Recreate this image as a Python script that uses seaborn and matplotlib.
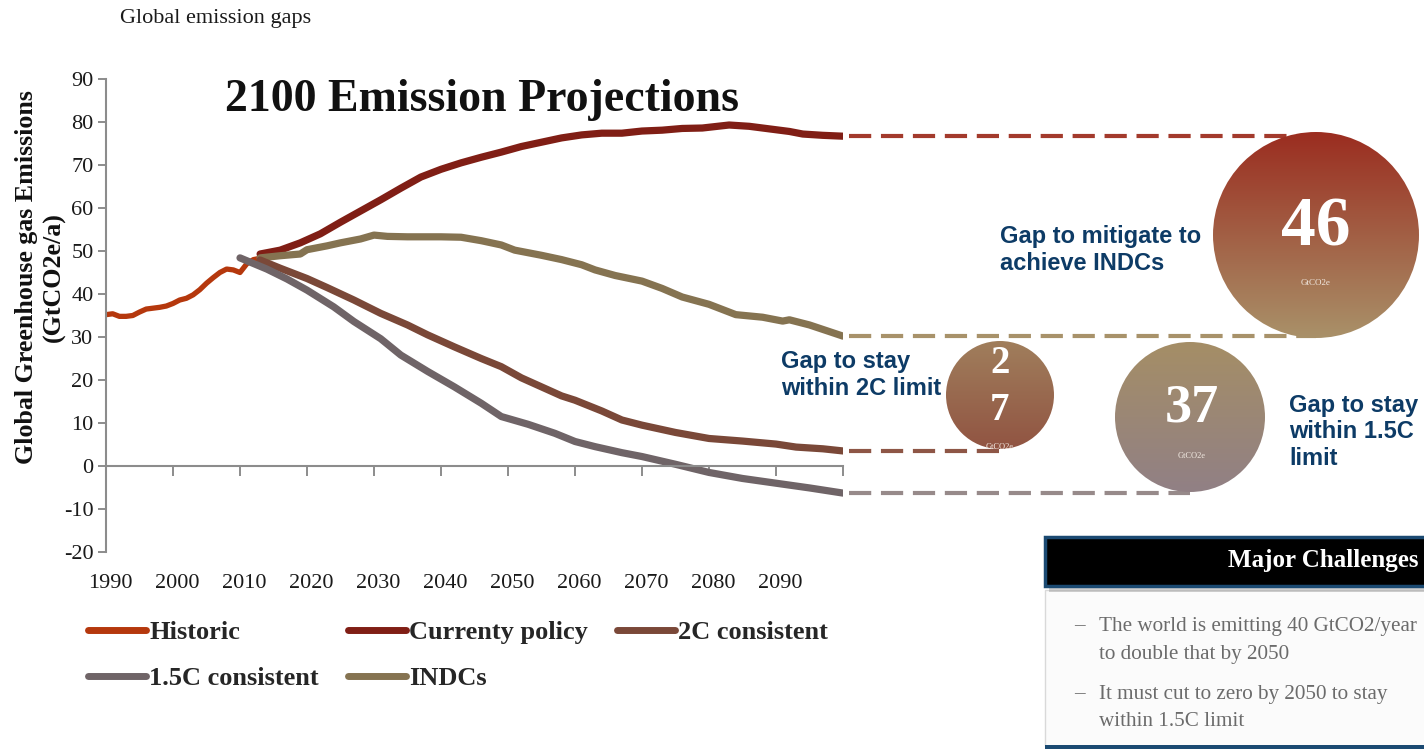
import numpy as np
import pandas as pd
import matplotlib
matplotlib.use("Agg")
import matplotlib.pyplot as plt
import seaborn as sns
from matplotlib.patches import Circle, Rectangle
from matplotlib.lines import Line2D
from matplotlib.colors import LinearSegmentedColormap

# ---------------- data ----------------
hist_years = [1990, 1991, 1992, 1993, 1994, 1995, 1996, 1997, 1998, 1999, 2000, 2001,
              2002, 2003, 2004, 2005, 2006, 2007, 2008, 2009, 2010, 2011, 2012, 2013]
hist_vals = [35.2, 35.4, 34.8, 34.8, 35.0, 35.8, 36.5, 36.7, 36.9, 37.2, 37.8, 38.6,
             39.0, 39.8, 41.0, 42.5, 43.8, 45.0, 45.8, 45.6, 45.0, 47.0, 48.0, 48.3]

cur_years = [2013, 2016, 2019, 2022, 2025, 2028, 2031, 2034, 2037, 2040, 2043, 2046, 2049,
             2052, 2055, 2058, 2061, 2064, 2067, 2070, 2073, 2076, 2079, 2083, 2086, 2089,
             2092, 2094, 2097, 2100]
cur_vals = [49.3, 50.2, 51.9, 54.0, 56.7, 59.3, 61.9, 64.6, 67.2, 69.0, 70.5, 71.8, 73.0,
            74.3, 75.3, 76.3, 77.0, 77.4, 77.4, 77.9, 78.1, 78.5, 78.6, 79.3, 79.0, 78.4,
            77.8, 77.2, 76.9, 76.7]

indc_years = [2013, 2016, 2019, 2020, 2023, 2025, 2028, 2030, 2032, 2035, 2040, 2043, 2046,
              2049, 2051, 2055, 2058, 2061, 2063, 2066, 2070, 2073, 2076, 2080, 2084, 2088,
              2091, 2092, 2095, 2100]
indc_vals = [48.4, 48.9, 49.3, 50.3, 51.2, 51.9, 52.8, 53.7, 53.4, 53.3, 53.3, 53.2, 52.4,
             51.4, 50.2, 49.0, 48.0, 46.8, 45.6, 44.3, 43.0, 41.3, 39.3, 37.6, 35.2, 34.6,
             33.7, 34.0, 32.8, 30.2]

c2_years = [2013, 2016, 2020, 2023, 2027, 2031, 2035, 2038, 2042, 2046, 2049, 2052, 2055,
            2058, 2060, 2064, 2067, 2070, 2075, 2080, 2085, 2090, 2093, 2097, 2100]
c2_vals = [47.9, 46.0, 43.6, 41.5, 38.6, 35.5, 32.8, 30.5, 27.7, 25.0, 23.1, 20.5, 18.4,
           16.3, 15.3, 12.8, 10.7, 9.5, 7.8, 6.4, 5.8, 5.1, 4.4, 4.0, 3.5]

c15_years = [2010, 2014, 2017, 2020, 2024, 2027, 2031, 2034, 2038, 2042, 2046, 2049, 2053,
             2057, 2060, 2063, 2067, 2070, 2075, 2080, 2085, 2090, 2095, 2100]
c15_vals = [48.4, 45.8, 43.5, 40.9, 37.0, 33.6, 29.6, 25.8, 22.0, 18.4, 14.6, 11.5, 9.7,
            7.6, 5.7, 4.5, 3.1, 2.2, 0.4, -1.5, -2.9, -4.0, -5.1, -6.3]

series_names = ["Historic", "Currenty policy", "INDCs", "2C consistent", "1.5C consistent"]
legend_order = ["Historic", "1.5C consistent", "Currenty policy", "INDCs", "2C consistent"]
y_ticks = list(range(-20, 91, 10))
x_ticks = list(range(1990, 2101, 10))
x_label_years = list(range(1990, 2091, 10))
x_tick_labels = [str(y) for y in x_label_years]

gap_labels = ["46", "2\n7", "37"]
gap_texts = ["Gap to mitigate to\nachieve INDCs", "Gap to stay\nwithin 2C limit",
             "Gap to stay\nwithin 1.5C\nlimit"]
box_title = "Major Challenges"
box_lines = ["The world is emitting 40 GtCO2/year", "to double that by 2050",
             "It must cut to zero by 2050 to stay", "within 1.5C limit"]

colors = {"Historic": "#B5380D", "Currenty policy": "#801E15", "INDCs": "#857351",
          "2C consistent": "#7A4838", "1.5C consistent": "#6F6467"}

# ---------------- figure ----------------
sns.set_theme(style="white")
plt.rcParams['font.family'] = ['Liberation Serif', 'DejaVu Serif']
plt.rcParams['lines.scale_dashes'] = False
plt.rcParams['axes.unicode_minus'] = False

W, H = 1424, 749
fig = plt.figure(figsize=(W / 100, H / 100), dpi=100)
fig.patch.set_facecolor("white")
ax = fig.add_axes([106 / W, 1 - 552 / H, (843 - 106) / W, (552 - 79) / H])
ax.set_facecolor("none")

data = {"Historic": (hist_years, hist_vals, 3.8),
        "Currenty policy": (cur_years, cur_vals, 5.2),
        "INDCs": (indc_years, indc_vals, 5.2),
        "2C consistent": (c2_years, c2_vals, 5.2),
        "1.5C consistent": (c15_years, c15_vals, 5.2)}

for name in series_names:
    yrs, vals, lw = data[name]
    df = pd.DataFrame({"year": yrs, "value": vals})
    sns.lineplot(data=df, x="year", y="value", color=colors[name], linewidth=lw, ax=ax,
                 errorbar=None, legend=False, solid_capstyle="round")

ax.set_xlim(1990, 2100)
ax.set_ylim(-20, 90)
ax.set_xlabel("")
ax.set_ylabel("")
ax.spines[["top", "right"]].set_visible(False)
for s in ["left", "bottom"]:
    ax.spines[s].set_color("#8c8c8c")
    ax.spines[s].set_linewidth(1.5)
ax.spines["bottom"].set_position(("data", 0))
ax.set_yticks(y_ticks)
ax.set_xticks(x_ticks)
ax.tick_params(axis="y", left=True, direction="out", length=6, width=1.4, color="#8c8c8c",
               labelsize=16, pad=3, labelcolor="#1a1a1a")
ax.tick_params(axis="x", bottom=True, direction="out", length=7, width=1.4, color="#8c8c8c",
               labelbottom=False)

sec = ax.secondary_xaxis(0)
sec.set_xticks([y + 0.6 for y in x_label_years])
sec.set_xticklabels(x_tick_labels)
sec.tick_params(length=0, pad=16, labelsize=16, labelcolor="#1a1a1a")
sec.spines["bottom"].set_visible(False)

# titles and y label
fig.text(120 / W, 1 - 18 / H, "Global emission gaps", fontsize=16, va="center", ha="left",
         color="#1a1a1a")
fig.text(225 / W, 1 - 100 / H, "2100 Emission Projections", fontsize=33, fontweight="bold",
         va="center", ha="left", color="#111111")
fig.text(40 / W, 1 - 277 / H, "Global Greenhouse gas Emissions\n(GtCO2e/a)", rotation=90,
         fontsize=18.7, fontweight="bold", ha="center", va="center", multialignment="center",
         linespacing=1.25, color="#111111")

# legend
handles = [Line2D([0], [0], color=colors[n], lw=5, solid_capstyle="round") for n in legend_order]
fig.legend(handles, legend_order, loc="upper left", bbox_to_anchor=(88 / W, 1 - 621 / H),
           ncol=3, frameon=False, prop={"weight": "bold", "size": 19},
           handlelength=2.2, handletextpad=0.12, columnspacing=1.1, labelspacing=0.85,
           borderaxespad=0, borderpad=0)

# ---------------- overlay (pixel coordinates) ----------------
ov = fig.add_axes([0, 0, 1, 1])
ov.set_xlim(0, W)
ov.set_ylim(0, H)
ov.axis("off")


def end_px(yrs, vals):
    return ax.transData.transform((yrs[-1], vals[-1]))


dash_specs = [(cur_years, cur_vals, 1316, "#A33A2C"),
              (indc_years, indc_vals, 1316, "#A8926A"),
              (c2_years, c2_vals, 1000, "#8E5646"),
              (c15_years, c15_vals, 1190, "#978A8A")]
for yrs, vals, xe, col in dash_specs:
    px, py = end_px(yrs, vals)
    ov.plot([px + 6, xe], [py, py], color=col, lw=3, dashes=(16, 7), dash_capstyle="butt",
            zorder=2)


def grad_circle(cx, cy_top, r, top, bottom):
    cy = H - cy_top
    grad = np.linspace(0, 1, 256)[:, None]
    cmap = LinearSegmentedColormap.from_list("g", [top, bottom])
    im = ov.imshow(grad, extent=(cx - r, cx + r, cy - r, cy + r), origin="upper", cmap=cmap,
                   aspect="auto", zorder=3, interpolation="bilinear")
    circ = Circle((cx, cy), r, facecolor="none", edgecolor="none", transform=ov.transData)
    ov.add_patch(circ)
    im.set_clip_path(circ)


grad_circle(1316, 235, 103, "#9B2D20", "#A99169")
grad_circle(1000, 395, 54, "#A07E5C", "#915442")
grad_circle(1190, 417, 75, "#A58E66", "#918085")
ov.set_xlim(0, W)
ov.set_ylim(0, H)

num_kw = dict(color="white", fontweight="bold", ha="center", va="center", zorder=5)
unit_kw = dict(color="#f3ebe3", ha="center", va="center", zorder=5)
ov.text(1316, H - 228, gap_labels[0], fontsize=50, **num_kw)
ov.text(1316, H - 283, "GtCO2e", fontsize=6.5, **unit_kw)
ov.text(1000, H - 387, gap_labels[1], fontsize=28, linespacing=1.35, **num_kw)
ov.text(1000, H - 447, "GtCO2e", fontsize=6, **unit_kw)
ov.text(1192, H - 408, gap_labels[2], fontsize=39, **num_kw)
ov.text(1192, H - 456, "GtCO2e", fontsize=6, **unit_kw)

blue_kw = dict(color="#0D3B66", fontsize=17, fontweight="bold", ha="left", va="center",
               family=["Liberation Sans", "DejaVu Sans"], linespacing=1.22, zorder=5)
ov.text(1000, H - 250, gap_texts[0], **blue_kw)
ov.text(781, H - 375, gap_texts[1], **blue_kw)
ov.text(1289, H - 432, gap_texts[2], **blue_kw)

# challenges box
ov.add_patch(Rectangle((1045, H - 746), 420, 156, facecolor="#fbfbfb", edgecolor="#d9d9d9",
                       lw=1, zorder=2))
ov.add_patch(Rectangle((1049, H - 592), 420, 50, facecolor="#9a9a9a", alpha=0.45,
                       edgecolor="none", zorder=2))
ov.add_patch(Rectangle((1045, H - 586), 420, 49, facecolor="black", edgecolor="#1B4A72",
                       lw=2.5, zorder=3))
ov.add_patch(Rectangle((1045, 0), 420, 4, facecolor="#1B4A72", edgecolor="none", zorder=3))
ov.text(1228, H - 561, box_title, color="white", fontsize=18, fontweight="bold",
        ha="left", va="center", zorder=5)
body_kw = dict(color="#6b6b6b", fontsize=15.2, ha="left", va="center", zorder=5)
ov.text(1074, H - 626, "–", **body_kw)
ov.text(1099, H - 626, box_lines[0], **body_kw)
ov.text(1099, H - 654, box_lines[1], **body_kw)
ov.text(1074, H - 694, "–", **body_kw)
ov.text(1099, H - 694, box_lines[2], **body_kw)
ov.text(1099, H - 722, box_lines[3], **body_kw)

fig.savefig("out.png", dpi=100, facecolor="white")
